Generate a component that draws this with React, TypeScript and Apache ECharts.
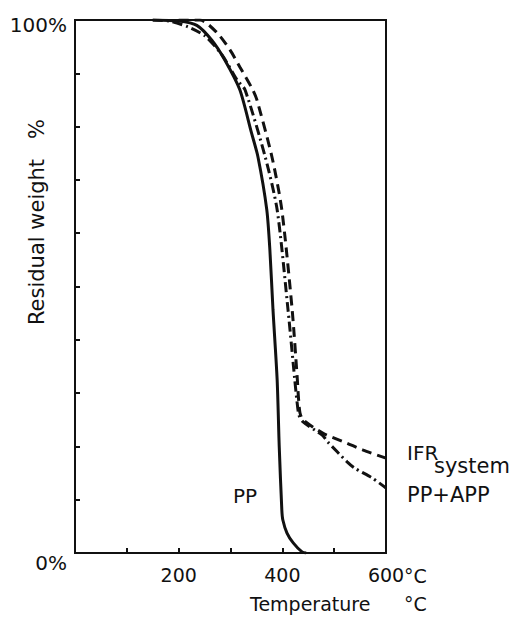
import React, { useEffect, useRef } from "react";
import * as echarts from "echarts";

const tempPP = [150, 200, 235, 264, 289, 318, 340, 353, 370, 376, 382, 390, 394, 399, 401, 409, 421, 438, 446];
const weightPP = [100, 99.8, 99, 96.2, 92.5, 86.9, 79, 74.3, 64.4, 56.8, 45.6, 32.5, 20, 8.1, 6.2, 3.75, 1.9, 0.2, 0];

const tempIFR = [200, 241, 274, 299, 318, 343, 351, 380, 399, 419, 429, 431, 434, 440, 478, 525, 556, 600];
const weightIFR = [100, 100, 97.6, 94.4, 91.2, 86.9, 85, 74.3, 64.4, 45.6, 32.5, 29.3, 26.3, 25, 22.5, 20.6, 19.3, 17.8];

const tempAPP = [150, 183, 218, 251, 284, 313, 328, 367, 390, 411, 424, 428, 432, 440, 477, 488, 525, 540, 573, 600];
const weightAPP = [100, 99.8, 98.7, 97, 93.4, 88.7, 86.9, 74.3, 64.4, 45.6, 32.5, 28.7, 25.9, 24.6, 22.1, 20.8, 17.1, 15.9, 14.1, 12.2];

const xTickLabels: Record<number, string> = { 200: "200", 400: "400", 600: "600" };
const yTickLabels: Record<number, string> = { 0: "{b|0%}", 100: "{t|100%}" };

const FONT = "DejaVu Sans";
const INK = "#111";

const zip = (xs: number[], ys: number[]) => xs.map((x, i) => [x, ys[i]]);

export default function App() {
  const ref = useRef<HTMLDivElement>(null);
  useEffect(() => {
    if (!ref.current) return;
    const chart = echarts.init(ref.current, undefined, { renderer: "svg" });
    chart.setOption({
      animation: false,
      backgroundColor: "#fff",
      grid: {
        left: 75,
        right: 138,
        top: 20,
        bottom: 66,
        show: true,
        borderColor: INK,
        borderWidth: 2,
      },
      xAxis: {
        type: "value",
        min: 0,
        max: 600,
        interval: 100,
        splitLine: { show: false },
        axisLine: { lineStyle: { color: INK, width: 2 } },
        axisTick: { inside: true, length: 5, lineStyle: { color: INK, width: 2 } },
        axisLabel: {
          margin: 12,
          color: INK,
          fontFamily: FONT,
          fontSize: 19,
          formatter: (v: number) => xTickLabels[v] ?? "",
        },
      },
      yAxis: {
        type: "value",
        min: 0,
        max: 100,
        interval: 10,
        splitLine: { show: false },
        axisLine: { lineStyle: { color: INK, width: 2 } },
        axisTick: { inside: true, length: 5, lineStyle: { color: INK, width: 2 } },
        axisLabel: {
          margin: 8,
          color: INK,
          fontFamily: FONT,
          fontSize: 20,
          formatter: (v: number) => yTickLabels[v] ?? "",
          rich: {
            b: { fontFamily: FONT, fontSize: 20, color: INK, padding: [20, 0, 0, 0] },
            t: { fontFamily: FONT, fontSize: 20, color: INK, padding: [10, 0, 0, 0] },
          },
        },
      },
      series: [
        {
          name: "PP",
          type: "line",
          data: zip(tempPP, weightPP),
          showSymbol: false,
          smooth: 0.25,
          lineStyle: { color: INK, width: 3, type: "solid" },
        },
        {
          name: "IFR system",
          type: "line",
          data: zip(tempIFR, weightIFR),
          showSymbol: false,
          smooth: 0.25,
          lineStyle: { color: INK, width: 3, type: [10, 6] },
        },
        {
          name: "PP+APP",
          type: "line",
          data: zip(tempAPP, weightAPP),
          showSymbol: false,
          smooth: 0.25,
          lineStyle: { color: INK, width: 3, type: [10, 4, 2, 4] },
        },
      ],
      graphic: [
        {
          type: "text",
          x: 37,
          y: 222,
          rotation: Math.PI / 2,
          style: {
            text: "Residual weight   %",
            font: `21px "${FONT}"`,
            fill: INK,
            textAlign: "center",
            textVerticalAlign: "middle",
          },
        },
        {
          type: "text",
          x: 404,
          y: 576,
          style: { text: "°C", font: `19px "${FONT}"`, fill: INK, textAlign: "left", textVerticalAlign: "middle" },
        },
        {
          type: "text",
          x: 250,
          y: 604,
          style: { text: "Temperature", font: `19px "${FONT}"`, fill: INK, textAlign: "left", textVerticalAlign: "middle" },
        },
        {
          type: "text",
          x: 404,
          y: 604,
          style: { text: "°C", font: `19px "${FONT}"`, fill: INK, textAlign: "left", textVerticalAlign: "middle" },
        },
        {
          type: "text",
          x: 233,
          y: 496,
          style: { text: "PP", font: `20px "${FONT}"`, fill: INK, textAlign: "left", textVerticalAlign: "middle" },
        },
        {
          type: "text",
          x: 407,
          y: 453,
          style: { text: "IFR", font: `20px "${FONT}"`, fill: INK, textAlign: "left", textVerticalAlign: "middle" },
        },
        {
          type: "text",
          x: 434,
          y: 466,
          style: { text: "system", font: `21px "${FONT}"`, fill: INK, textAlign: "left", textVerticalAlign: "middle" },
        },
        {
          type: "text",
          x: 407,
          y: 495,
          style: { text: "PP+APP", font: `21px "${FONT}"`, fill: INK, textAlign: "left", textVerticalAlign: "middle" },
        },
      ],
    });
    return () => chart.dispose();
  }, []);
  return (
    <div
      ref={ref}
      style={{ position: "fixed", left: 0, top: 0, width: 524, height: 619, background: "#fff" }}
    />
  );
}
